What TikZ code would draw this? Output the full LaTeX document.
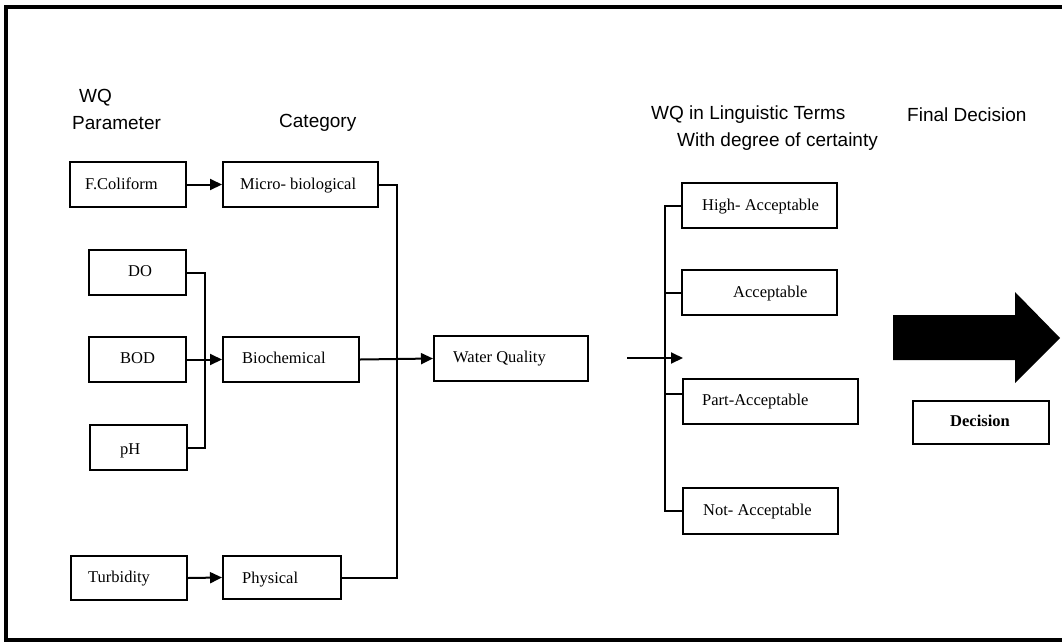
\documentclass[tikz,border=0pt]{standalone}
\usepackage{fontspec}
\setmainfont{Liberation Serif}
\newfontfamily\hdr{Liberation Sans}
\usetikzlibrary{arrows.meta,calc}
\newcommand\mkbox[5]{\node[box,minimum width={(#4-#2)*1pt},minimum height={(#5-#3)*1pt}] (#1) at ({(#2+#4)/2},{(#3+#5)/2}) {};}
\begin{document}
\begin{tikzpicture}[x=1pt,y=-1pt,
  box/.style={draw, line width=2pt, inner sep=0pt},
  lbl/.style={font=\fontsize{16.5}{18}\selectfont, anchor=west, inner sep=0pt, text height=11pt, text depth=3pt},
  hd/.style={font=\hdr\fontsize{19}{21}\selectfont, anchor=west, inner sep=0pt},
  conn/.style={line width=2pt},
  arr/.style={conn, -{Triangle[length=12pt,width=11pt]}}]
\useasboundingbox (0,0) rectangle (1062,643);
\fill[white] (0,0) rectangle (1062,643);
% frame
\draw[line width=3.5pt] (1075,7) -- (6,7) -- (6,640) -- (1075,640);
% headers
\node[hd] (h1) at (79,98) {WQ};
\node[hd] (h2) at (72,123) {Parameter};
\node[hd] (h3) at (279,123) {Category};
\node[hd] (h4) at (651,115) {WQ in Linguistic Terms};
\node[hd] (h5) at (677,142) {With degree of certainty};
\node[hd] (h6) at (907,115) {Final Decision};
% boxes
\mkbox{fc}{70}{162}{186}{207}
\mkbox{micro}{223}{162}{378}{207}
\mkbox{do}{89}{250}{186}{295}
\mkbox{bod}{89}{337}{186}{382}
\mkbox{ph}{90}{425}{187}{470}
\mkbox{bio}{223}{337}{359}{382}
\mkbox{tur}{71}{556}{187}{600}
\mkbox{phys}{223}{556}{341}{599}
\mkbox{wq}{434}{336}{588}{381}
\mkbox{high}{682}{183}{837}{228}
\mkbox{acc}{682}{270}{837}{315}
\mkbox{part}{683}{379}{858}{424}
\mkbox{not}{683}{488}{838}{534}
\mkbox{dec}{913}{401}{1049}{444}
% texts
\node[lbl] (fcT) at (85,185) {F.Coliform};
\node[lbl] (microT) at (240,185) {Micro- biological};
\node[lbl] (doT) at (128,272) {DO};
\node[lbl] (bodT) at (120,359) {BOD};
\node[lbl] (phT) at (120,450) {pH};
\node[lbl] (bioT) at (242,359) {Biochemical};
\node[lbl] (turT) at (88,578) {Turbidity};
\node[lbl] (physT) at (242,579) {Physical};
\node[lbl] (wqT) at (453,358) {Water Quality};
\node[lbl] (highT) at (702,206) {High- Acceptable};
\node[lbl] (accT) at (733,293) {Acceptable};
\node[lbl] (partT) at (702,401) {Part-Acceptable};
\node[lbl] (notT) at (703,511) {Not- Acceptable};
\node[lbl,font=\fontsize{16.5}{18}\selectfont\bfseries] (decT) at (950,422) {Decision};
% connectors left
\coordinate (busL) at (397,360);
\coordinate (busB) at (205,359);
\coordinate (busR) at (665,358);
\coordinate (inS) at (627,358);
\coordinate (inT) at (683,358);
\coordinate (partJ) at ($(part.west)+(0,-8)$);
\draw[arr] (fc.east) -- (micro.west);
\draw[arr] (tur.east) -- (phys.west);
\draw[arr] (bod.east) -- (bio.west);
\draw[conn] (do.east) -| (busB) |- (ph.east);
\draw[conn] (micro.east) -| (busL) |- (phys.east);
\draw[arr] (bio.east) -- (wq.west);
% right
\draw[conn] (high.west) -| (busR) |- (not.west);
\draw[conn] (acc.west) -- (acc.west -| busR);
\draw[conn] (partJ) -- (partJ -| busR);
\draw[arr] (inS) -- (inT);
% big arrow
\fill (893,315) -- (1015,315) -- (1015,292) -- (1060,338) -- (1015,383) -- (1015,360) -- (893,360) -- cycle;
\end{tikzpicture}
\end{document}
